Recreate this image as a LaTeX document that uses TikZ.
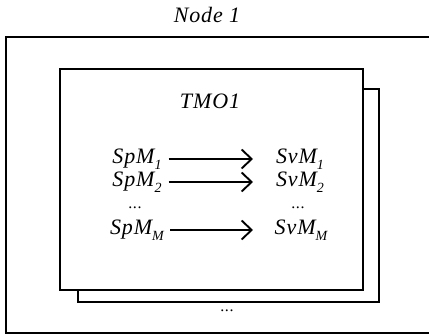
\documentclass[tikz,border=0pt]{standalone}
\usepackage{fontspec}
\setmainfont{Liberation Serif}[LetterSpace=4]
\usetikzlibrary{arrows.meta}
\tikzset{
  box/.style={draw=black, line width=1.8pt, fill=white},
  lbl/.style={font=\fontsize{22}{24}\selectfont\itshape, inner sep=0pt},
  dots/.style={font=\fontsize{16}{18}\selectfont, inner sep=0pt},
  arr/.style={line width=1.9pt, -{Straight Barb[length=10pt,width=19pt,line width=1.9pt]}},
}
\newcommand{\sbs}[1]{\raisebox{-0.28em}{\fontsize{14}{14}\selectfont\itshape #1}}
\begin{document}
\begin{tikzpicture}[x=1pt,y=-1pt]
\useasboundingbox (0,0) rectangle (429,336);
\draw[box] (6,37) rectangle (432,333);
\draw[box] (78,89) rectangle (379,302);
\draw[box] (60,69) rectangle (363,290);
\node[lbl] (title) at (207,15) {Node 1};
\node[lbl] (tmo) at (210,101) {TMO1};
\node[lbl] (l1) at (137,159) {SpM\sbs{1}};
\node[lbl] (r1) at (300,159) {SvM\sbs{1}};
\node[lbl] (l2) at (137,182) {SpM\sbs{2}};
\node[lbl] (r2) at (300,182) {SvM\sbs{2}};
\node[dots] (ld) at (135,208) {...};
\node[dots] (rd) at (298,208) {...};
\node[lbl] (lm) at (137,230) {SpM\sbs{M}};
\node[lbl] (rm) at (301,230) {SvM\sbs{M}};
\node[dots] (bd) at (227,311) {...};
\coordinate (a1e) at (253,159);
\draw[arr] (l1.east) ++(7,0) coordinate (a1s) -- (a1e);
\coordinate (a2e) at (253,182);
\draw[arr] (l2.east) ++(7,0) coordinate (a2s) -- (a2e);
\coordinate (ame) at (253,230);
\draw[arr] (lm.east) ++(6,0) coordinate (ams) -- (ame);
\end{tikzpicture}
\end{document}
